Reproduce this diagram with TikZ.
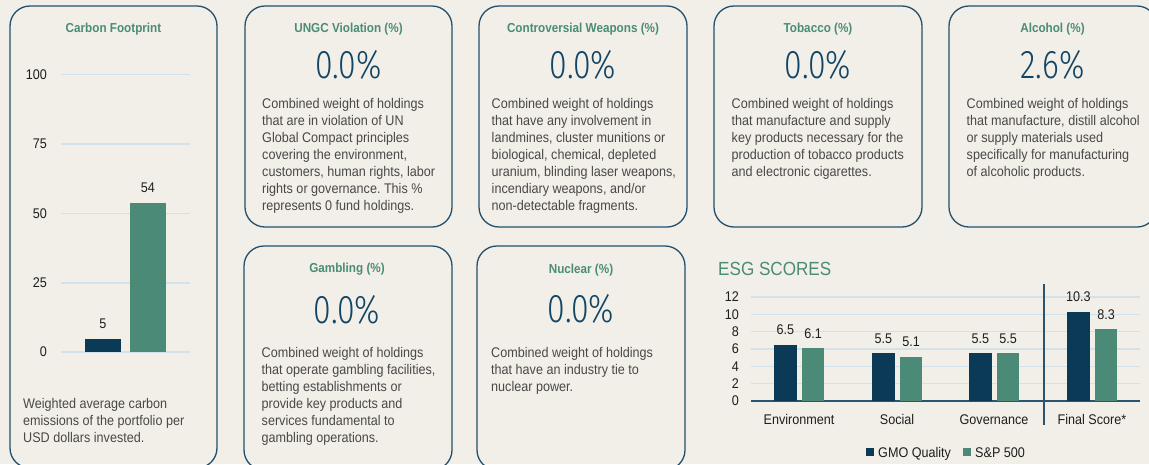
\documentclass[tikz,border=0pt]{standalone}
\usepackage{fontspec}
\setmainfont{Liberation Sans}[FakeStretch=0.9]
\newfontfamily\numfont{Fira Sans Light}[FakeStretch=0.8]
\frenchspacing
\definecolor{bg}{HTML}{F2EFE8}
\definecolor{cardline}{HTML}{22506E}
\definecolor{titlegreen}{HTML}{4A8C74}
\definecolor{numblue}{HTML}{134565}
\definecolor{bodygray}{HTML}{484848}
\definecolor{labelblack}{HTML}{1E1E1E}
\definecolor{gridblue}{HTML}{D2E2EA}
\definecolor{barblue}{HTML}{0B3A56}
\definecolor{bargreen}{HTML}{4B8A76}
\definecolor{axisblue}{HTML}{2B5470}
\tikzset{
 card/.style={draw=cardline, line width=1.3pt, rounded corners=20pt, inner sep=0pt, outer sep=0pt, anchor=north west},
 ttl/.style={font=\bfseries\fontsize{13}{15}\selectfont, text=titlegreen, anchor=base, inner sep=0pt},
 bignum/.style={font=\numfont\fontsize{40}{44}\selectfont, text=numblue, anchor=base, inner sep=0pt},
 body/.style={font=\fontsize{14}{17}\selectfont, text=bodygray, align=left, anchor=north west, inner sep=0pt},
 lbl/.style={font=\fontsize{14}{16}\selectfont, text=labelblack, inner sep=0pt},
 gridln/.style={draw=gridblue, line width=1.2pt},
 gbar/.style={fill=barblue},
 sbar/.style={fill=bargreen}
}
\begin{document}
\begin{tikzpicture}[x=1pt,y=-1pt]
\useasboundingbox (0,0) rectangle (1149,464);
\clip (0,0) rectangle (1149,464);
\fill[bg] (0,0) rectangle (1149,464);

% ---------- cards ----------
\node[card, minimum width=207pt, minimum height=462pt] (carbon) at (10,6) {};
\node[card, minimum width=207pt, minimum height=221pt] (ungc) at (245,6) {};
\node[card, minimum width=208pt, minimum height=221pt] (weap) at (479,6) {};
\node[card, minimum width=208pt, minimum height=221pt] (tob) at (714,6) {};
\node[card, minimum width=208pt, minimum height=221pt] (alc) at (949,6) {};
\node[card, minimum width=208pt, minimum height=224pt] (gamb) at (244,246) {};
\node[card, minimum width=208pt, minimum height=224pt] (nuc) at (477,246) {};

% ---------- carbon footprint ----------
\node[ttl] (carbonT) at (113.5,32) {Carbon Footprint};
\foreach \v/\yy in {100/74.7,75/144,50/213.3,25/283,0/352}{
  \draw[gridln] (61,\yy) -- (190,\yy);
  \node[lbl, anchor=east] (cy\v) at (47,\yy) {\v};
}
\fill[gbar] (85,352) rectangle (121,339);
\fill[sbar] (130,352) rectangle (166,203);
\node[lbl, anchor=base] (cv1) at (103,328) {5};
\node[lbl, anchor=base] (cv2) at (148,192) {54};
\node[body] (carbonB) at (23,397.8) {Weighted average carbon\\emissions of the portfolio per\\USD dollars invested.};

% ---------- UNGC ----------
\node[ttl] (ungcT) at (348.5,32) {UNGC Violation (\%)};
\node[bignum] (ungcN) at (348.5,78) {0.0\%};
\node[body] (ungcB) at (262,97.8) {Combined weight of holdings\\that are in violation of UN\\Global Compact principles\\covering the environment,\\customers, human rights, labor\\rights or governance. This \%\\represents 0 fund holdings.};

% ---------- Controversial weapons ----------
\node[ttl] (weapT) at (583,32) {Controversial Weapons (\%)};
\node[bignum] (weapN) at (583,78) {0.0\%};
\node[body] (weapB) at (491.5,97.8) {Combined weight of holdings\\that have any involvement in\\landmines, cluster munitions or\\biological, chemical, depleted\\uranium, blinding laser weapons,\\incendiary weapons, and/or\\non-detectable fragments.};

% ---------- Tobacco ----------
\node[ttl] (tobT) at (818,32) {Tobacco (\%)};
\node[bignum] (tobN) at (818,78) {0.0\%};
\node[body] (tobB) at (731.5,97.8) {Combined weight of holdings\\that manufacture and supply\\key products necessary for the\\production of tobacco products\\and electronic cigarettes.};

% ---------- Alcohol ----------
\node[ttl] (alcT) at (1052.5,32) {Alcohol (\%)};
\node[bignum] (alcN) at (1052.5,78) {2.6\%};
\node[body] (alcB) at (966.5,97.8) {Combined weight of holdings\\that manufacture, distill alcohol\\or supply materials used\\specifically for manufacturing\\of alcoholic products.};

% ---------- Gambling ----------
\node[ttl] (gambT) at (347,272) {Gambling (\%)};
\node[bignum] (gambN) at (347,323) {0.0\%};
\node[body] (gambB) at (261.5,346.8) {Combined weight of holdings\\that operate gambling facilities,\\betting establishments or\\provide key products and\\services fundamental to\\gambling operations.};

% ---------- Nuclear ----------
\node[ttl] (nucT) at (581,273) {Nuclear (\%)};
\node[bignum] (nucN) at (581,322) {0.0\%};
\node[body] (nucB) at (491,346.8) {Combined weight of holdings\\that have an industry tie to\\nuclear power.};

% ---------- ESG scores ----------
\node[font=\fontsize{19}{21}\selectfont, text=titlegreen, anchor=base west, inner sep=0pt] (esgT) at (718,275) {ESG SCORES};
\foreach \v in {2,4,...,12}{
  \draw[gridln] (751,{401-8.67*\v}) -- (1140,{401-8.67*\v});
}
\foreach \v in {0,2,...,12}{
  \node[lbl, anchor=east] (ey\v) at (739,{401-8.67*\v}) {\v};
}
\draw[axisblue, line width=1.3pt] (751,401) -- (1140,401);
\draw[axisblue, line width=1.3pt] (1044,284) -- (1044,425);
\foreach \xa/\va/\vb/\nm in {774/6.5/6.1/env, 872/5.5/5.1/soc, 969/5.5/5.5/gov, 1067/10.3/8.3/fin}{
  \fill[gbar] (\xa,401) rectangle ({\xa+22.5},{401-8.67*\va});
  \fill[sbar] ({\xa+28},401) rectangle ({\xa+50},{401-8.67*\vb});
  \node[lbl, anchor=base] (\nm a) at ({\xa+11.25},{391-8.67*\va}) {\va};
  \node[lbl, anchor=base] (\nm b) at ({\xa+39},{391-8.67*\vb}) {\vb};
}
\node[lbl, anchor=base] (envL) at (799,424) {Environment};
\node[lbl, anchor=base] (socL) at (897,424) {Social};
\node[lbl, anchor=base] (govL) at (994,424) {Governance};
\node[lbl, anchor=base] (finL) at (1092,424) {Final Score*};

% legend
\fill[gbar] (866,448) rectangle (874,456);
\node[lbl, anchor=base west] (legA) at (878,457) {GMO Quality};
\fill[sbar] (963,448) rectangle (971,456);
\node[lbl, anchor=base west] (legB) at (975,457) {S\&P 500};
\end{tikzpicture}
\end{document}
